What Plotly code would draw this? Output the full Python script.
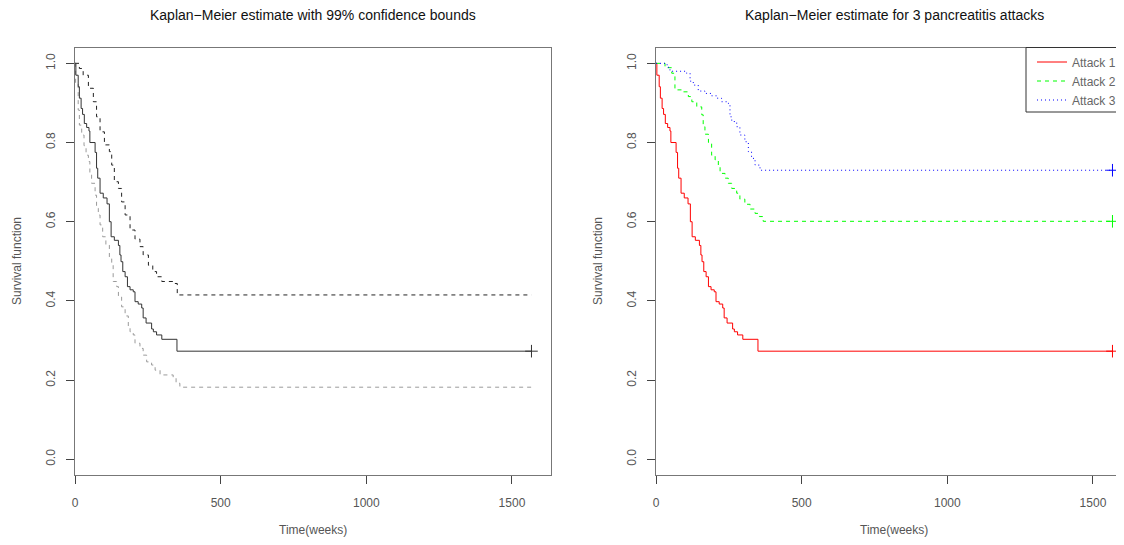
import plotly.graph_objects as go

# ---------------- data ----------------
km_time = [0, 3, 11, 15, 21, 26, 32, 40, 48, 51, 69, 74, 78, 86, 97, 110, 118, 124, 135, 149,
           154, 158, 164, 172, 180, 189, 200, 206, 217, 229, 234, 244, 263, 269, 280, 298, 350]
km_surv = [1.0, 0.97, 0.941, 0.912, 0.886, 0.871, 0.848, 0.838, 0.829, 0.80, 0.775, 0.735, 0.71,
           0.672, 0.66, 0.645, 0.60, 0.562, 0.553, 0.54, 0.516, 0.499, 0.474, 0.461, 0.436, 0.428,
           0.423, 0.398, 0.392, 0.382, 0.357, 0.344, 0.329, 0.322, 0.314, 0.303, 0.273]

upper_time = [0, 15, 28, 46, 63, 74, 86, 101, 118, 126, 135, 149, 160, 172, 189, 206, 223, 234,
              252, 267, 280, 298, 337, 351]
upper_vals = [1.0, 0.987, 0.97, 0.937, 0.903, 0.865, 0.827, 0.794, 0.777, 0.743, 0.701, 0.684,
              0.65, 0.617, 0.579, 0.556, 0.537, 0.516, 0.49, 0.474, 0.461, 0.449, 0.444, 0.415]

lower_time = [0, 2, 11, 15, 23, 31, 38, 46, 51, 57, 69, 74, 80, 86, 95, 106, 118, 126, 131, 143,
              149, 160, 172, 183, 189, 200, 206, 223, 234, 246, 263, 275, 292, 337, 347, 360]
lower_vals = [1.0, 0.95, 0.882, 0.844, 0.819, 0.792, 0.768, 0.752, 0.722, 0.697, 0.667, 0.634,
              0.617, 0.592, 0.562, 0.541, 0.51, 0.49, 0.449, 0.436, 0.41, 0.385, 0.362, 0.335,
              0.322, 0.314, 0.293, 0.28, 0.263, 0.246, 0.238, 0.225, 0.213, 0.207, 0.192, 0.182]

a2_time = [0, 31, 54, 65, 94, 111, 123, 140, 157, 162, 168, 180, 191, 203, 214, 220, 237, 248,
           260, 277, 288, 305, 323, 340, 355, 368]
a2_surv = [1.0, 0.989, 0.975, 0.933, 0.928, 0.916, 0.903, 0.89, 0.87, 0.84, 0.821, 0.80, 0.768,
           0.756, 0.739, 0.722, 0.71, 0.697, 0.684, 0.672, 0.657, 0.644, 0.632, 0.621, 0.613, 0.601]

a3_time = [0, 38, 48, 105, 117, 128, 145, 168, 191, 208, 225, 248, 254, 260, 277, 288, 305, 317,
           328, 340, 357]
a3_surv = [1.0, 0.99, 0.98, 0.975, 0.955, 0.945, 0.93, 0.924, 0.918, 0.912, 0.903, 0.899, 0.865,
           0.853, 0.84, 0.819, 0.802, 0.777, 0.76, 0.743, 0.73]

last_followup = 1567
series_names = ["Attack 1", "Attack 2", "Attack 3"]
x_ticks = [0, 500, 1000, 1500]
y_ticks = [0.0, 0.2, 0.4, 0.6, 0.8, 1.0]
y_tick_text = ["0.0", "0.2", "0.4", "0.6", "0.8", "1.0"]

# ---------------- layout helpers ----------------
W, H = 1124, 529
OFF = 8  # page body margin offset
FONT = "Liberation Sans, Arial, Helvetica, sans-serif"


def px(x):
    return (x - OFF) / W


def py(y):
    return 1 - (y - OFF) / H


def ext(t, v):
    return list(t) + [last_followup], list(v) + [v[-1]]


fig = go.Figure()


def step(t, v, color, dash, xa, ya, name=None, legend=False):
    x, y = ext(t, v)
    fig.add_trace(go.Scatter(x=x, y=y, mode="lines", line=dict(color=color, width=1, dash=dash, shape="hv"),
                             xaxis=xa, yaxis=ya, name=name, showlegend=legend, hoverinfo="skip"))


def censor(v, color, xa, ya):
    fig.add_trace(go.Scatter(x=[last_followup], y=[v[-1]], mode="markers",
                             marker=dict(symbol="cross-thin", size=9, line=dict(color=color, width=1)),
                             xaxis=xa, yaxis=ya, showlegend=False, hoverinfo="skip"))


# left panel
step(upper_time, upper_vals, "#222222", "4px,4px", "x", "y")
step(lower_time, lower_vals, "#9a9a9a", "4px,4px", "x", "y")
step(km_time, km_surv, "#333333", "solid", "x", "y")
censor(km_surv, "#333333", "x", "y")

# right panel
step(km_time, km_surv, "#ff0000", "solid", "x2", "y2", series_names[0], True)
step(a2_time, a2_surv, "#00ff00", "4px,4px", "x2", "y2", series_names[1], True)
step(a3_time, a3_surv, "#0000ff", "1px,3px", "x2", "y2", series_names[2], True)
censor(km_surv, "#ff0000", "x2", "y2")
censor(a2_surv, "#00ff00", "x2", "y2")
censor(a3_surv, "#0000ff", "x2", "y2")

ydom = [py(475.1), py(47.5)]
axcommon = dict(showgrid=False, zeroline=False, ticks="outside", ticklen=8, tickcolor="#444444",
                tickwidth=1, linecolor="#777777", linewidth=1, showline=True,
                tickfont=dict(family=FONT, size=12, color="#555555"))

fig.update_layout(
    width=W, height=H, margin=dict(l=0, r=0, t=0, b=0, autoexpand=False),
    paper_bgcolor="white", plot_bgcolor="white",
    xaxis=dict(domain=[px(75), px(551)], range=[0, 1634], tickvals=x_ticks, mirror=True,
               anchor="y", ticklabelstandoff=8, **axcommon),
    yaxis=dict(domain=ydom, range=[-0.04, 1.04], tickvals=y_ticks, ticktext=y_tick_text,
               tickangle=-90, mirror=True, anchor="x", ticklabelstandoff=6, **axcommon),
    xaxis2=dict(domain=[px(656), px(1132)], range=[0, 1634], tickvals=x_ticks, mirror=True,
                anchor="y2", ticklabelstandoff=8, **axcommon),
    yaxis2=dict(domain=ydom, range=[-0.04, 1.04], tickvals=y_ticks, ticktext=y_tick_text,
                tickangle=-90, mirror=False, anchor="x2", ticklabelstandoff=6, **axcommon),
    legend=dict(x=px(1032), y=py(47.5), xanchor="left", yanchor="top", bgcolor="rgba(0,0,0,0)",
                borderwidth=0, font=dict(family=FONT, size=12, color="#666666"),
                tracegroupgap=0, itemwidth=30),
    showlegend=True,
)

# legend frame (its right side runs past the visible page, as in the reference)
fig.add_shape(type="rect", xref="paper", yref="paper", x0=px(1026), x1=px(1145),
              y0=py(112), y1=py(47.5), line=dict(color="#333333", width=1),
              fillcolor="white", layer="above")

annots = [
    dict(text="Kaplan\u2212Meier estimate with 99% confidence bounds", x=px(313), y=py(15), size=14, color="#111111", angle=0),
    dict(text="Kaplan\u2212Meier estimate for 3 pancreatitis attacks", x=px(894), y=py(15), size=14, color="#111111", angle=0),
    dict(text="Time(weeks)", x=px(313), y=py(530), size=12, color="#555555", angle=0),
    dict(text="Time(weeks)", x=px(894), y=py(530), size=12, color="#555555", angle=0),
    dict(text="Survival function", x=px(17), y=py(261), size=12, color="#555555", angle=-90),
    dict(text="Survival function", x=px(598), y=py(261), size=12, color="#555555", angle=-90),
]
for a in annots:
    fig.add_annotation(text=a["text"], x=a["x"], y=a["y"], xref="paper", yref="paper",
                       xanchor="center", yanchor="middle", showarrow=False, textangle=a["angle"],
                       font=dict(family=FONT, size=a["size"], color=a["color"]))

fig.write_html("out.html")
